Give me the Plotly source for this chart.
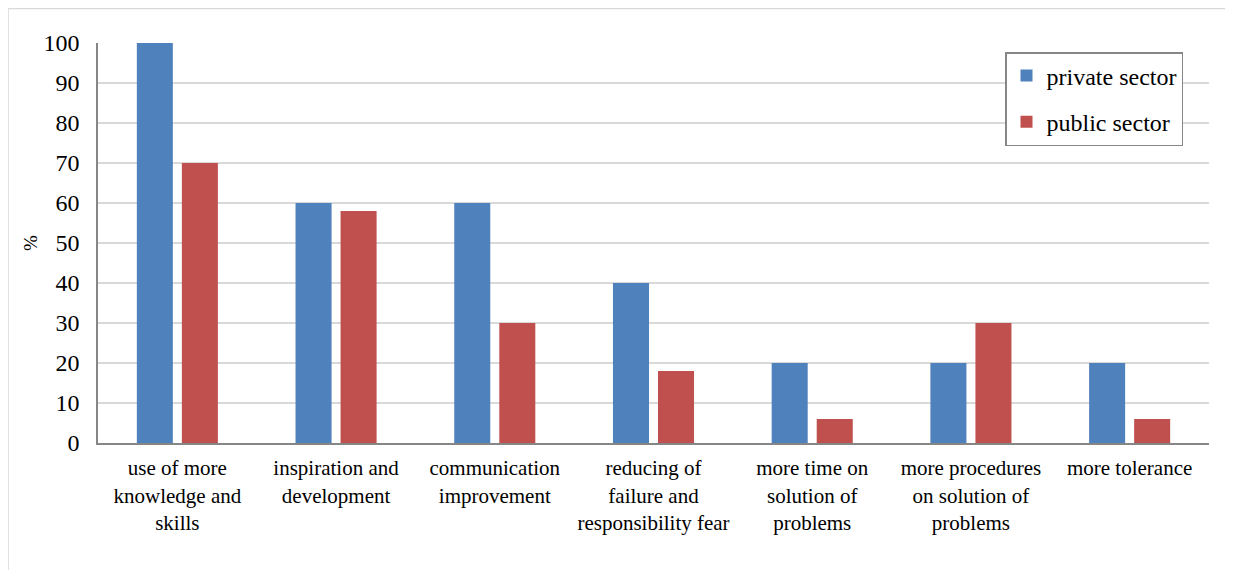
import plotly.graph_objects as go

categories = [
    "use of more<br>knowledge and<br>skills",
    "inspiration and<br>development",
    "communication<br>improvement",
    "reducing of<br>failure and<br>responsibility fear",
    "more time on<br>solution of<br>problems",
    "more procedures<br>on solution of<br>problems",
    "more tolerance",
]
private_sector = [100, 60, 60, 40, 20, 20, 20]
public_sector = [70, 58, 30, 18, 6, 30, 6]
y_ticks = [0, 10, 20, 30, 40, 50, 60, 70, 80, 90, 100]

FONT = "'Liberation Serif', 'Times New Roman', Times, serif"

fig = go.Figure()
fig.add_trace(go.Bar(name="private sector", x=categories, y=private_sector,
                     marker=dict(color="#4F81BD", line=dict(width=0)),
                     legendgroup="a"))
fig.add_trace(go.Bar(name="public sector", x=categories, y=public_sector,
                     marker=dict(color="#C0504D", line=dict(width=0)),
                     legendgroup="b"))

# page body has an 8px margin, so figure origin sits at (8, 8) on the page
OFF = 8
W, H = 1233 - OFF, 570 - OFF
L, R, T, B = 98 - OFF, 24, 43 - OFF, 127
pw, ph = W - L - R, H - T - B

fig.update_layout(
    width=W, height=H,
    margin=dict(l=L, r=R, t=T, b=B, pad=0),
    paper_bgcolor="white", plot_bgcolor="white",
    font=dict(family=FONT, size=21, color="#000000"),
    barmode="group", bargap=0.4325, bargroupgap=0.2,
    showlegend=True,
    legend=dict(
        x=(1005 - 98) / pw, y=(443 - 52) / ph, xanchor="left", yanchor="top",
        bordercolor="#868686", borderwidth=1.5, bgcolor="white",
        font=dict(family=FONT, size=24),
        tracegroupgap=12, itemwidth=30,
    ),
    xaxis=dict(
        showline=True, linecolor="#868686", linewidth=2,
        showgrid=False, ticks="", tickfont=dict(family=FONT, size=21),
        ticklabelstandoff=5,
    ),
    yaxis=dict(
        range=[0, 100], tickvals=y_ticks, showline=True, linecolor="#868686",
        linewidth=1.5, showgrid=True, gridcolor="#D9D9D9", gridwidth=1.5,
        ticks="", tickfont=dict(family=FONT, size=24), ticklabelstandoff=12,
        zeroline=False,
    ),
    annotations=[dict(
        text="%", textangle=-90, showarrow=False,
        xref="paper", yref="paper",
        x=(30 - 98) / pw, y=(443 - 243) / ph,
        xanchor="center", yanchor="middle",
        font=dict(family=FONT, size=19),
    )],
    shapes=[dict(
        type="rect", xref="paper", yref="paper",
        x0=(8 - 98) / pw, x1=(1245 - 98) / pw,
        y0=(443 - 580) / ph, y1=(443 - 8.5) / ph,
        line=dict(color="#D9D9D9", width=1.5), fillcolor="rgba(0,0,0,0)",
        layer="below",
    )],
)

fig.write_html("out.html")
